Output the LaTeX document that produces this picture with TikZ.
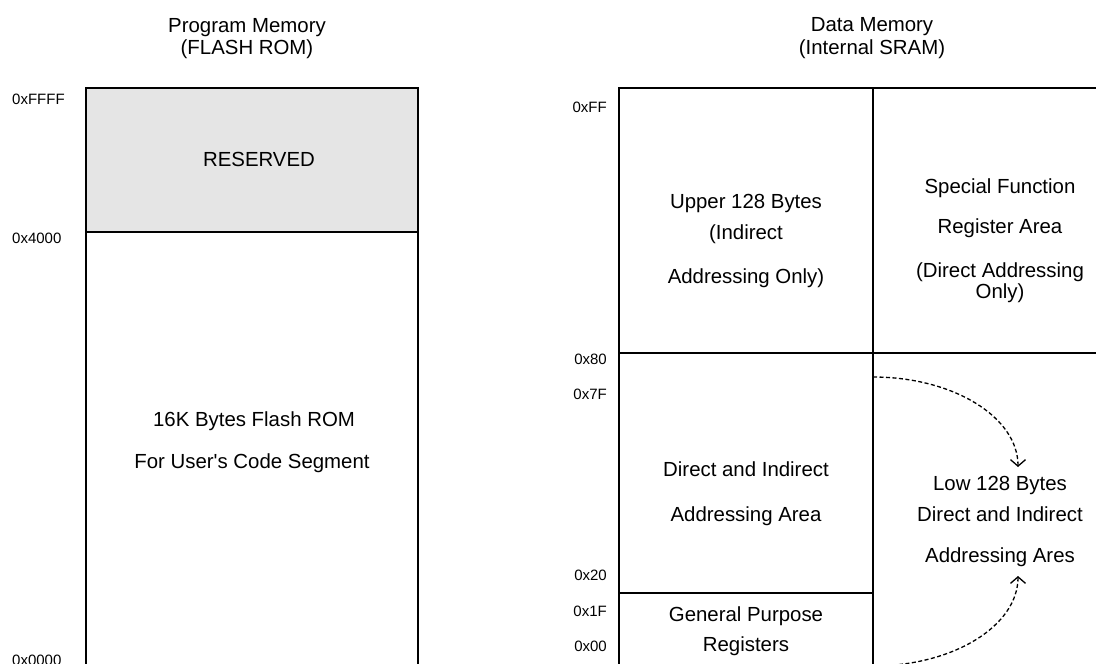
\documentclass[tikz,border=0pt]{standalone}
\usepackage{fontspec}
\setmainfont{Liberation Sans}
\usetikzlibrary{arrows.meta}
\definecolor{resfill}{RGB}{229,229,229}
\begin{document}
\begin{tikzpicture}[x=1pt,y=-1pt,
  box/.style={draw=black,line width=1.4pt},
  txt/.style={anchor=base,inner sep=0pt,font=\fontsize{20.4}{24}\selectfont},
  addre/.style={anchor=base east,inner sep=0pt,font=\fontsize{15}{18}\selectfont},
  addrw/.style={anchor=base west,inner sep=0pt,font=\fontsize{15}{18}\selectfont},
  flow/.style={draw=black,line width=1.3pt,dash pattern=on 4pt off 2.5pt,
    -{Straight Barb[length=6.5pt,width=15pt,line width=1.3pt]}}
]
\useasboundingbox (0,0) rectangle (1096,664);
\clip (0,0) rectangle (1096,664);

% titles
\node[txt] (t1a) at (247,32) {Program Memory};
\node[txt] (t1b) at (247,54) {(FLASH ROM)};
\node[txt] (t2a) at (872,31) {Data Memory};
\node[txt] (t2b) at (872,54) {(Internal SRAM)};

% program memory
\fill[resfill] (86,88) rectangle (418,232);
\draw[box] (86,700) -- (86,88) -- (418,88) -- (418,700);
\draw[box] (86,232) -- (418,232);
\node[txt] (res) at (259,166) {RESERVED};
\node[txt] (fl1) at (254,426) {16K Bytes Flash ROM};
\node[txt] (fl2) at (252,468) {For User\textquotesingle s Code Segment};

\node[addrw] (pa1) at (12,104) {0xFFFF};
\node[addrw] (pa2) at (12,243) {0x4000};
\node[addrw] (pa3) at (12,665) {0x0000};

% data memory
\draw[box] (619,700) -- (619,88) -- (1130,88);
\draw[box] (873,88) -- (873,700);
\draw[box] (619,353) -- (1130,353);
\draw[box] (619,593) -- (873,593);

\node[txt] (u1) at (746,208) {Upper 128 Bytes};
\node[txt] (u2) at (746,239) {(Indirect};
\node[txt] (u3) at (746,283) {Addressing Only)};

\node[txt] (s1) at (1000,193) {Special Function};
\node[txt] (s2) at (1000,233) {Register Area};
\node[txt] (s3) at (1000,277) {(Direct Addressing};
\node[txt] (s4) at (1000,298) {Only)};

\node[txt] (d1) at (746,476) {Direct and Indirect};
\node[txt] (d2) at (746,521) {Addressing Area};

\node[txt] (l1) at (1000,490) {Low 128 Bytes};
\node[txt] (l2) at (1000,521) {Direct and Indirect};
\node[txt] (l3) at (1000,562) {Addressing Ares};

\node[txt] (g1) at (746,621) {General Purpose};
\node[txt] (g2) at (746,651) {Registers};

\node[addre] (da1) at (607,112) {0xFF};
\node[addre] (da2) at (607,364) {0x80};
\node[addre] (da3) at (607,399) {0x7F};
\node[addre] (da4) at (607,580) {0x20};
\node[addre] (da5) at (607,616) {0x1F};
\node[addre] (da6) at (607,651) {0x00};

% dashed arrows
\coordinate (a1s) at (873,377);
\coordinate (a1e) at (1018,467);
\coordinate (a2s) at (873,666);
\coordinate (a2e) at (1018,576);
\draw[flow] (a1s) .. controls (953,377) and (1018,417) .. (a1e);
\draw[flow] (a2s) .. controls (953,666) and (1018,626) .. (a2e);
\end{tikzpicture}
\end{document}
